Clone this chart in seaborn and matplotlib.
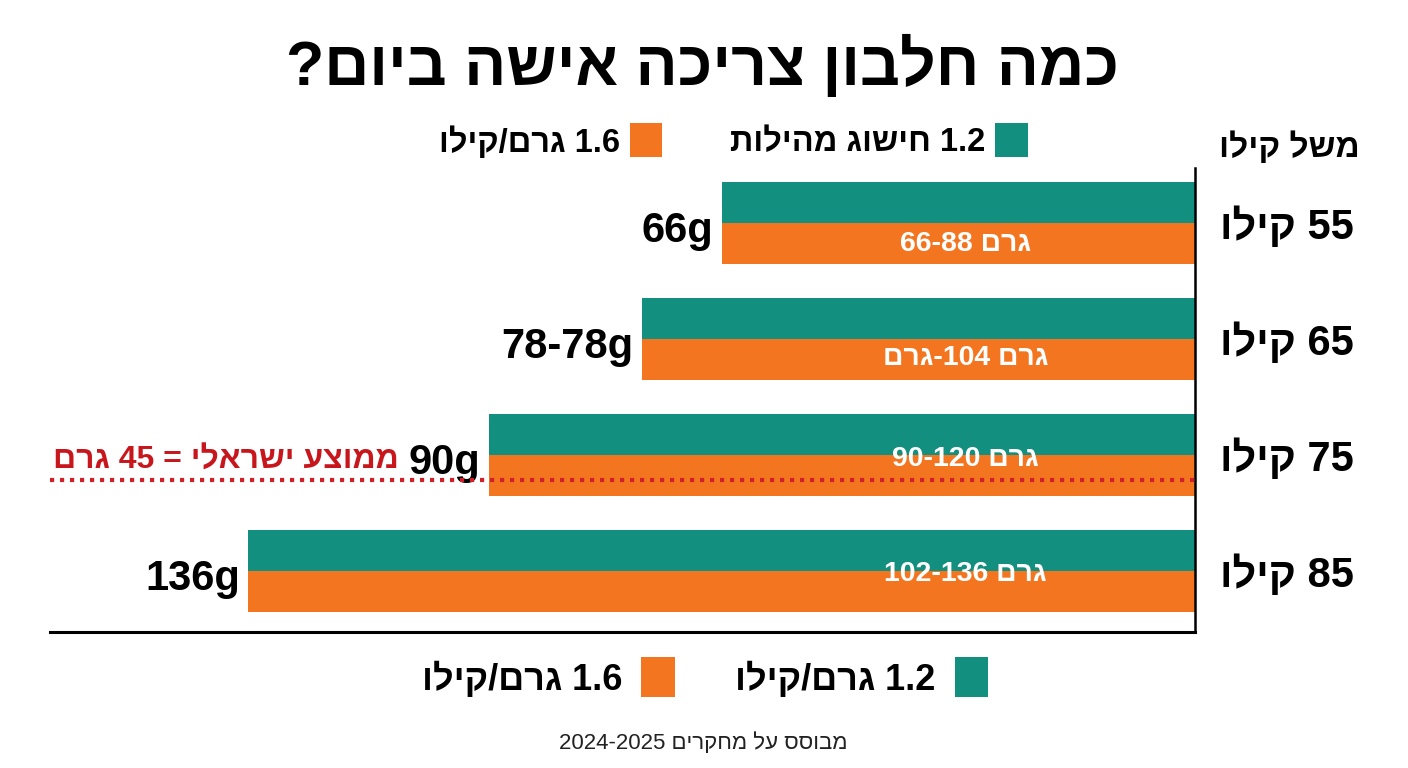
import matplotlib
matplotlib.use("Agg")
import matplotlib.pyplot as plt
import seaborn as sns
import pandas as pd
from matplotlib.patches import Rectangle

# ---- data (Hebrew strings are stored in visual order, for LTR rendering) ----
weights = ["וליק 55", "וליק 65", "וליק 75", "וליק 85"]          # 55/65/75/85 קילו
series = ["1.2", "1.6"]
values_12 = [68, 79.5, 101.5, 136]
values_16 = [68, 79.5, 101.5, 136]
value_labels = ["66g", "78-78g", "90g", "136g"]
range_labels = ["66-88 םרג", "םרג-104 םרג", "90-120 םרג", "102-136 םרג"]
avg_label = "םרג 45 = ילארשי עצוממ"
avg_pos = 2.216
title = "?םויב השיא הכירצ ןובלח המכ"
top_leg_12 = "תוליהמ גושיח 1.2"
top_leg_16 = "וליק/םרג 1.6"
axis_head = "וליק לשמ"
bot_leg_12 = "וליק/םרג 1.2"
bot_leg_16 = "וליק/םרג 1.6"
footer = "2024-2025 םירקחמ לע ססובמ"

TEAL = "#138f80"
ORANGE = "#f4751f"
RED = "#c8161d"

sns.set_theme(style="white")
FAM = ["Liberation Sans Narrow", "Liberation Sans", "DejaVu Sans"]
plt.rcParams["font.family"] = FAM

W, H = 1408, 768
fig = plt.figure(figsize=(W / 100, H / 100), dpi=100)
ax = fig.add_axes([50 / W, 1 - 632 / H, (1195 - 50) / W, (632 - 168) / H])

df = pd.DataFrame({
    "weight": weights * 2,
    "series": [series[0]] * 4 + [series[1]] * 4,
    "value": values_12 + values_16,
})
sns.barplot(data=df, y="weight", x="value", hue="series", orient="h",
            palette=[TEAL, ORANGE], width=0.707, dodge=True, saturation=1,
            legend=False, ax=ax, errorbar=None, linewidth=0)

ax.set_xlim(164.5, 0)
ax.set_ylim(3.526, -0.474)
ax.set_xlabel("")
ax.set_ylabel("")
ax.set_xticks([])
ax.yaxis.tick_right()
ax.tick_params(axis="y", length=0, pad=18, labelsize=30)
for t in ax.get_yticklabels():
    t.set_fontweight("bold")
    t.set_color("black")
for s in ["left", "top"]:
    ax.spines[s].set_visible(False)
for s in ["right", "bottom"]:
    ax.spines[s].set_visible(True)
    ax.spines[s].set_color("black")
ax.spines["bottom"].set_linewidth(2.2)
ax.spines["right"].set_linewidth(1.8)

# value labels at bar ends
for i, (v, lab) in enumerate(zip(values_12, value_labels)):
    ax.annotate(lab, xy=(v, i), xytext=(-8, -8), textcoords="offset pixels",
                ha="right", va="center", fontsize=30, fontweight="bold",
                color="black")

# range labels inside bars
range_dy = [0.185, 0.165, 0.035, 0.025]
for i, lab in enumerate(range_labels):
    ax.text(33, i + range_dy[i], lab, ha="center", va="center", fontsize=20.5,
            fontweight="bold", color="white")

# Israeli average line
ax.axhline(avg_pos, color="#d0202a", lw=3, ls=(0, (1, 1.4)), zorder=5)
ax.annotate(avg_label, xy=(values_12[2], 2), xytext=(-90, -6),
            textcoords="offset pixels", ha="right", va="center",
            fontsize=23, fontweight="bold", color=RED)

def ftext(x, y, s, **kw):
    fig.text(x / W, 1 - y / H, s, **kw)

ftext(703, 66, title, ha="center", va="center", fontsize=45, fontweight="bold",
      color="black")

# top legend
fig.add_artist(Rectangle((995 / W, 1 - 157 / H), 33 / W, 34 / H,
                         transform=fig.transFigure, color=TEAL, lw=0))
fig.add_artist(Rectangle((630 / W, 1 - 157 / H), 32 / W, 34 / H,
                         transform=fig.transFigure, color=ORANGE, lw=0))
ftext(985, 143, top_leg_12, ha="right", va="center", fontsize=23.5,
      fontweight="bold", color="black")
ftext(620, 143, top_leg_16, ha="right", va="center", fontsize=23.5,
      fontweight="bold", color="black")
ftext(1360, 148, axis_head, ha="right", va="center", fontsize=24,
      fontweight="bold", color="black")

# bottom legend
fig.add_artist(Rectangle((955 / W, 1 - 697 / H), 33 / W, 40 / H,
                         transform=fig.transFigure, color=TEAL, lw=0))
fig.add_artist(Rectangle((641 / W, 1 - 697 / H), 34 / W, 40 / H,
                         transform=fig.transFigure, color=ORANGE, lw=0))
ftext(935, 680, bot_leg_12, ha="right", va="center", fontsize=26,
      fontweight="bold", color="black")
ftext(622, 680, bot_leg_16, ha="right", va="center", fontsize=26,
      fontweight="bold", color="black")

ftext(703, 743, footer, ha="center", va="center", fontsize=16, color="#222222")

fig.savefig("out.png", dpi=100, facecolor="white")
